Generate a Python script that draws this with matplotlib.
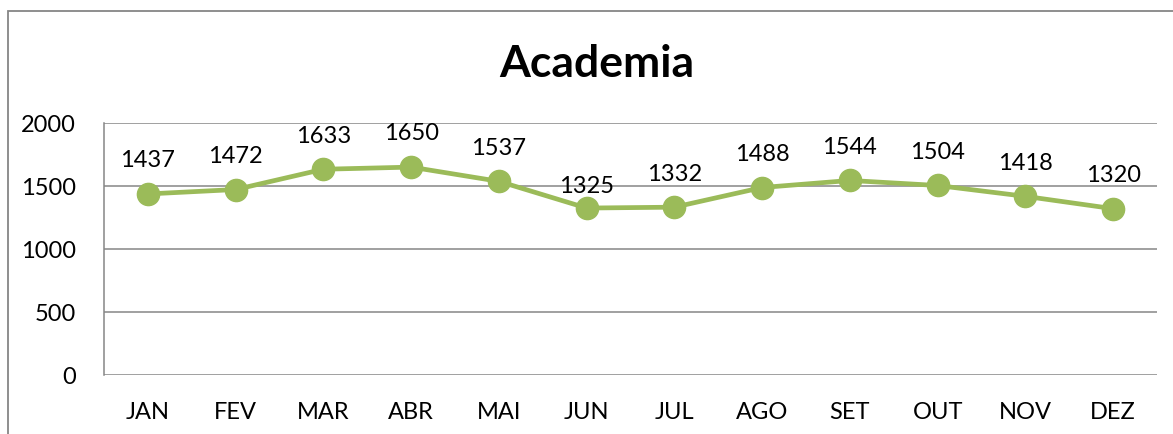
import matplotlib.pyplot as plt
from matplotlib.patches import Rectangle

# monthly values
meses = ['JAN', 'FEV', 'MAR', 'ABR', 'MAI', 'JUN', 'JUL', 'AGO', 'SET', 'OUT', 'NOV', 'DEZ']
valores = [1437, 1472, 1633, 1650, 1537, 1325, 1332, 1488, 1544, 1504, 1418, 1320]
y_ticks = [0, 500, 1000, 1500, 2000]

plt.rcParams['font.family'] = ['Lato', 'DejaVu Sans']

verde = '#9BBB59'
cinza = '#868686'

fig = plt.figure(figsize=(11.73, 4.35), dpi=100)
ax = fig.add_axes([104 / 1173, 59 / 435, 1053 / 1173, 252 / 435])

# chart border (cut off at the right and bottom)
fig.patches.append(Rectangle((8 / 1173, -0.2), 1.2, 0.2 + (435 - 12) / 435,
                             transform=fig.transFigure, fill=False,
                             edgecolor=cinza, linewidth=1.3, clip_on=False))

x = list(range(len(meses)))
ax.plot(x, valores, color=verde, linewidth=3.4, marker='o', markersize=16,
        markerfacecolor=verde, markeredgecolor=verde, zorder=3)

# JUN label sits a bit lower than the rest
for i, v in enumerate(valores):
    dy = 9 if meses[i] == 'JUN' else 17
    ax.annotate(str(v), (i, v), xytext=(0, dy), textcoords='offset points',
                ha='center', va='bottom', fontsize=17)

ax.set_xlim(-0.5, len(meses) - 0.5)
ax.set_ylim(0, 2000)
ax.set_yticks(y_ticks)
ax.set_xticks(x)
ax.set_xticklabels(meses)
ax.tick_params(axis='both', length=0, labelsize=17)
ax.tick_params(axis='y', pad=20)
ax.tick_params(axis='x', pad=19)

ax.grid(axis='y', color=cinza, linewidth=1.1)
ax.set_axisbelow(True)
for s in ['top', 'right', 'bottom']:
    ax.spines[s].set_visible(False)
ax.spines['left'].set_color(cinza)
ax.spines['left'].set_linewidth(1.1)

fig.text(597 / 1173, (435 - 64) / 435, 'Academia', ha='center', va='center',
         fontsize=32, fontweight='bold')

fig.savefig('out.png', dpi=100)
